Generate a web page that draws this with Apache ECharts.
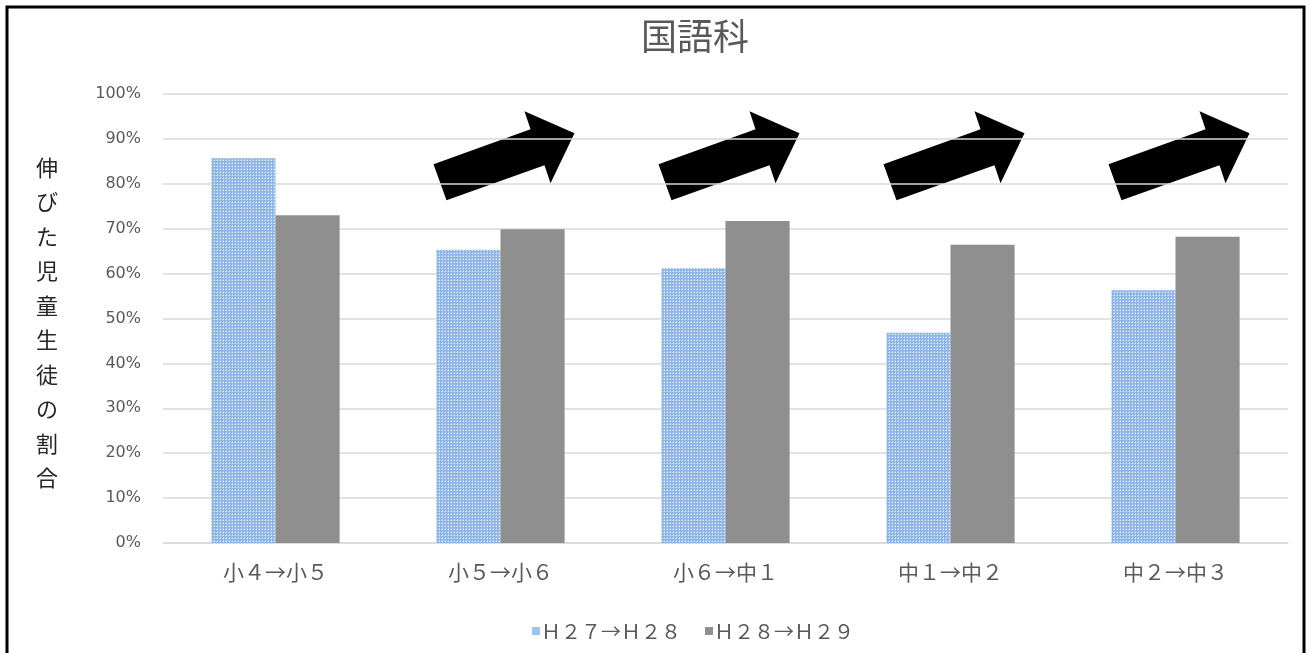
<!DOCTYPE html>
<html><head><meta charset="utf-8">
<script src="https://cdn.jsdelivr.net/npm/echarts@6/dist/echarts.min.js"></script>
<style>html,body{margin:0;padding:0;background:#fff}#c{width:1309px;height:653px}</style>
</head><body><div id="c"></div>
<script>
const categories = ['小４→小５', '小５→小６', '小６→中１', '中１→中２', '中２→中３'];
const seriesNames = ['Ｈ２７→Ｈ２８', 'Ｈ２８→Ｈ２９'];
const valuesH27H28 = [85.7, 65.3, 61.2, 46.8, 56.3];
const valuesH28H29 = [73.0, 69.9, 71.7, 66.4, 68.2];
const yTicks = [0, 10, 20, 30, 40, 50, 60, 70, 80, 90, 100];
const arrowCategories = [1, 2, 3, 4];
const yTitle = '伸びた児童生徒の割合';
const titleText = '国語科';

const FONT = '"Noto Sans CJK JP", "Noto Sans", sans-serif';

// dotted light-blue pattern
const pc = document.createElement('canvas');
pc.width = 3; pc.height = 3;
const pctx = pc.getContext('2d');
pctx.fillStyle = '#8db5e6';
pctx.fillRect(0, 0, 3, 3);
pctx.fillStyle = '#e4eefa';
pctx.fillRect(1, 1, 1, 1);
pctx.fillStyle = '#b3cdef';
pctx.fillRect(0, 1, 1, 1);
pctx.fillRect(1, 0, 1, 1);

const chart = echarts.init(document.getElementById('c'));
const option = {
  animation: false,
  backgroundColor: '#fff',
  title: {
    text: titleText, left: 636, top: 13,
    textStyle: { fontFamily: FONT, fontSize: 36, fontWeight: 'normal', color: '#595959' }
  },
  grid: { left: 163, right: 21, top: 94, bottom: 110 },
  legend: {
    bottom: 7, left: 527, itemWidth: 8, itemHeight: 8, itemGap: 24,
    icon: 'rect',
    textStyle: { fontFamily: FONT, fontSize: 20, color: '#595959', padding: [0, 0, 0, -4] },
    data: [
      { name: seriesNames[0], itemStyle: { color: '#9fc2ee' } },
      { name: seriesNames[1], itemStyle: { color: '#8f8f8f' } }
    ]
  },
  xAxis: {
    type: 'category', data: categories,
    axisTick: { show: false },
    axisLine: { lineStyle: { color: '#d9d9d9', width: 1.5 } },
    axisLabel: { fontFamily: FONT, fontSize: 21, color: '#595959', margin: 19 }
  },
  yAxis: {
    type: 'value', min: 0, max: 100, interval: 10,
    axisLine: { show: false }, axisTick: { show: false },
    splitLine: { lineStyle: { color: '#d9d9d9', width: 1.5 } },
    axisLabel: {
      fontFamily: '"DejaVu Sans", sans-serif', fontSize: 16, color: '#595959', margin: 22,
      formatter: v => (yTicks.includes(v) ? v + '%' : '')
    }
  },
  series: [
    {
      name: seriesNames[0], type: 'bar', data: valuesH27H28,
      barGap: '0%', barCategoryGap: '43%',
      itemStyle: { color: { image: pc, repeat: 'repeat' } }
    },
    {
      name: seriesNames[1], type: 'bar', data: valuesH28H29,
      barGap: '0%', barCategoryGap: '43%',
      itemStyle: { color: '#8f8f8f' }
    }
  ],
  graphic: [
    {
      type: 'rect', silent: true,
      shape: { x: 7, y: 7, width: 1297, height: 660 },
      style: { fill: 'none', stroke: '#000', lineWidth: 3 }
    },
    {
      type: 'text', left: 36, top: 150, silent: true,
      style: {
        text: yTitle.split('').join('\n'),
        font: '22px ' + FONT, fill: '#262626', lineHeight: 34.5, align: 'center'
      }
    }
  ]
};
chart.setOption(option);

// arrow decorations placed relative to each category centre
const arrowShape = [[-67, 14], [30, -21], [24, -39], [74, -17], [50, 33], [44, 15], [-54, 50]];
const arrows = arrowCategories.map(ci => {
  const p = chart.convertToPixel({ xAxisIndex: 0, yAxisIndex: 0 }, [ci, 87.5]);
  return {
    type: 'polygon', silent: true,
    shape: { points: arrowShape.map(([dx, dy]) => [p[0] + dx, p[1] + dy]) },
    style: { fill: '#000' }
  };
});
chart.setOption({ graphic: option.graphic.concat(arrows) });
</script></body></html>
